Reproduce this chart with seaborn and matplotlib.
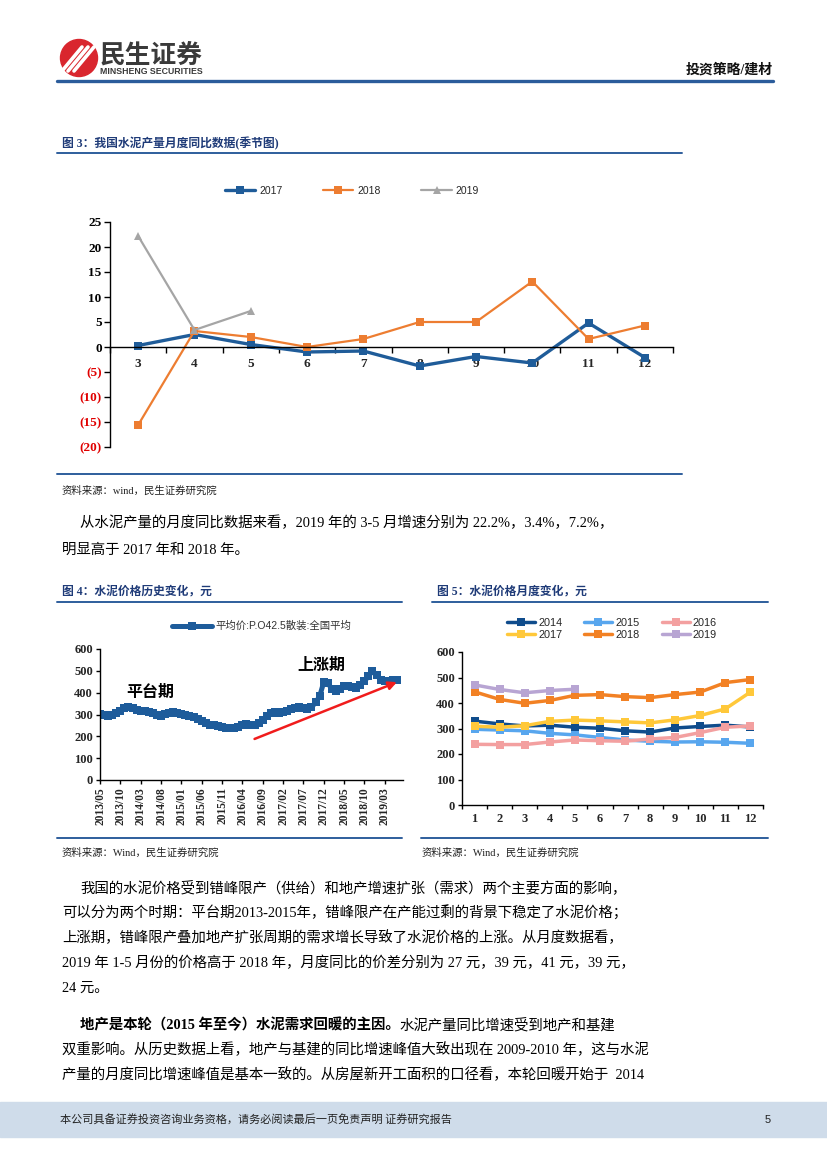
import numpy as np
import pandas as pd
import matplotlib
matplotlib.use("Agg")
import matplotlib.pyplot as plt
import seaborn as sns
from matplotlib.lines import Line2D
from matplotlib.patches import Circle, Rectangle

# ---- figure 3: cement output yoy (%) by month ----
months3 = [3, 4, 5, 6, 7, 8, 9, 10, 11, 12]
yoy_2017 = [0.3, 2.5, 0.5, -1.0, -0.8, -3.8, -1.9, -3.2, 4.8, -2.1]
yoy_2018 = [-15.6, 3.2, 2.0, 0.0, 1.6, 5.0, 5.0, 13.1, 1.6, 4.3]
months3_2019 = [3, 4, 5]
yoy_2019 = [22.2, 3.4, 7.2]
yticks3 = [-20, -15, -10, -5, 0, 5, 10, 15, 20, 25]
ylabels3 = ["(20)", "(15)", "(10)", "(5)", "0", "5", "10", "15", "20", "25"]

# ---- figure 4: national average price P.O42.5 bulk, monthly 2013/05-2019/06 ----
price_start = "2013-05"
price_avg = [302, 298, 292, 297, 305, 315, 328, 333,
             330, 322, 317, 315, 310, 305, 297, 292, 302, 309, 311, 308,
             304, 300, 295, 288, 280, 270, 260, 252, 250, 249, 245, 240,
             237, 236, 242, 251, 255, 252, 250, 260, 275, 295, 307, 312,
             309, 311, 318, 325, 332, 334, 328, 325, 333, 355, 383, 447,
             443, 418, 406, 418, 432, 430, 426, 421, 436, 452, 475, 500,
             482, 460, 452, 452, 458, 457]

# ---- figure 5: monthly price by year ----
months5 = [1, 2, 3, 4, 5, 6, 7, 8, 9, 10, 11, 12]
price_by_year = {
    "2014": [329, 318, 310, 313, 305, 301, 291, 286, 302, 308, 313, 306],
    "2015": [297, 294, 291, 281, 275, 265, 255, 250, 247, 248, 246, 242],
    "2016": [238, 237, 237, 247, 255, 252, 250, 259, 265, 284, 305, 310],
    "2017": [309, 305, 311, 328, 333, 330, 326, 322, 334, 351, 377, 443],
    "2018": [444, 414, 399, 410, 430, 433, 425, 421, 433, 443, 480, 492],
    "2019": [471, 453, 440, 449, 454],
}
colors5 = {"2014": "#0F4C8C", "2015": "#58A6EE", "2016": "#F3A0A0",
           "2017": "#FFC83A", "2018": "#F28124", "2019": "#B8A5D3"}

sns.set_theme(style="white")
plt.rcParams["font.family"] = ["Liberation Sans", "Noto Sans CJK SC"]

W, H = 827, 1169
fig = plt.figure(figsize=(8.27, 11.69), dpi=100)


def fx(x):
    return x / W


def fy(y):
    return 1 - y / H


def hline(y, x0, x1, lw=1.4, color="#2E5E9C"):
    fig.add_artist(Line2D([fx(x0), fx(x1)], [fy(y), fy(y)], color=color, lw=lw))


cjk = ["Liberation Serif", "Noto Sans CJK SC"]
title_color = "#1F3B78"
serif_bold = dict(family="Liberation Serif", weight="bold")

# ---- header ----
logo = fig.add_axes([fx(59), fy(78), 40 / W, 40 / H])
logo.set_xlim(0, 40)
logo.set_ylim(0, 40)
logo.set_aspect("equal")
logo.axis("off")
logo.add_patch(Circle((20, 20), 18.5, color="#D9262E"))
for off in (-6, 0, 6):
    logo.plot([9 + off, 29 + off], [7, 31], color="white", lw=2.6,
              solid_capstyle="round", clip_on=True)
fig.text(fx(100), fy(55), "民生证券", fontsize=18.5, fontweight="bold",
         color="#3A3A3A", family=["Noto Sans CJK SC"], va="center")
fig.text(fx(100), fy(72), "MINSHENG SECURITIES", fontsize=6.3,
         fontweight="bold", color="#3A3A3A", va="center")
fig.text(fx(773), fy(70), "投资策略/建材", fontsize=10, fontweight="bold",
         family=cjk, ha="right", va="center", color="#111111")
hline(81, 57, 773, lw=2.4, color="#2B5C9B")

# ---- figure 3 ----
fig.text(fx(62), fy(144), "图 3：我国水泥产量月度同比数据(季节图)", fontsize=8.5,
         fontweight="bold", family=cjk, color=title_color, va="center")
hline(153, 57, 682)

ax3 = fig.add_axes([fx(110), fy(447), 563 / W, 225 / H])
sns.lineplot(x=months3, y=yoy_2017, ax=ax3, color="#1F5C99", lw=2.4,
             marker="s", markersize=5.5, markeredgewidth=0, label="2017")
sns.lineplot(x=months3, y=yoy_2018, ax=ax3, color="#ED7D31", lw=1.6,
             marker="s", markersize=6, markeredgewidth=0, label="2018")
sns.lineplot(x=months3_2019, y=yoy_2019, ax=ax3, color="#A5A5A5", lw=1.6,
             marker="^", markersize=6, markeredgewidth=0, label="2019")
handles3, labels3 = ax3.get_legend_handles_labels()
ax3.get_legend().remove()
ax3.set_xlim(2.5, 12.5)
ax3.set_ylim(-20, 25)
for s in ("top", "right"):
    ax3.spines[s].set_visible(False)
ax3.spines["bottom"].set_position(("data", 0))
for s in ("bottom", "left"):
    ax3.spines[s].set_color("black")
    ax3.spines[s].set_linewidth(1.0)
ax3.set_xticks(months3)
ax3.set_xticklabels([str(m) for m in months3], **serif_bold, fontsize=9.5)
ax3.set_xticks(np.arange(2.5, 13, 1), minor=True)
ax3.tick_params(axis="x", which="major", length=0, pad=8)
ax3.tick_params(axis="x", which="minor", length=4, width=1, direction="out",
                color="black", bottom=True)
ax3.set_yticks(yticks3)
ax3.set_yticklabels(ylabels3, **serif_bold, fontsize=9.5)
for lab, v in zip(ax3.get_yticklabels(), yticks3):
    lab.set_color("#E00000" if v < 0 else "black")
ax3.tick_params(axis="y", length=4, width=1, direction="out", color="black",
                left=True, pad=2)
ax3.set_xlabel("")
ax3.set_ylabel("")
ax3.grid(False)
fig.legend(handles3, labels3, loc="center", bbox_to_anchor=(fx(352), fy(191)),
           ncol=3, frameon=False, handlelength=2.9, handletextpad=0.4,
           columnspacing=3.9, prop=dict(family="Liberation Sans", size=7.5))

hline(474, 57, 682)
fig.text(fx(62), fy(491), "资料来源：wind，民生证券研究院", fontsize=7.5,
         family=cjk, va="center", color="#222222")

para_kw = dict(fontsize=10.4, family=cjk, va="center", color="black")
fig.text(fx(80), fy(523), "从水泥产量的月度同比数据来看，2019 年的 3-5 月增速分别为 22.2%，3.4%，7.2%，", **para_kw)
fig.text(fx(62), fy(550), "明显高于 2017 年和 2018 年。", **para_kw)

# ---- figure 4 ----
fig.text(fx(62), fy(592), "图 4：水泥价格历史变化，元", fontsize=8.5,
         fontweight="bold", family=cjk, color=title_color, va="center")
hline(602, 57, 402)
fig.text(fx(437), fy(592), "图 5：水泥价格月度变化，元", fontsize=8.5,
         fontweight="bold", family=cjk, color=title_color, va="center")
hline(602, 432, 768)

months4 = pd.period_range(price_start, periods=len(price_avg), freq="M").strftime("%Y/%m")
idx4 = np.arange(len(price_avg))
ax4 = fig.add_axes([fx(100), fy(780), 303 / W, 131 / H])
sns.lineplot(x=idx4, y=price_avg, ax=ax4, color="#1E5C9B", lw=3.6,
             marker="s", markersize=5.5, markeredgewidth=0,
             label="平均价:P.O42.5散装:全国平均")
handles4, labels4 = ax4.get_legend_handles_labels()
ax4.get_legend().remove()
ax4.set_xlim(0, len(price_avg) + 0.5)
ax4.set_ylim(0, 600)
for s in ("top", "right"):
    ax4.spines[s].set_visible(False)
for s in ("bottom", "left"):
    ax4.spines[s].set_color("black")
    ax4.spines[s].set_linewidth(1.0)
tick_pos4 = idx4[::5]
ax4.set_xticks(tick_pos4)
ax4.set_xticklabels([months4[i] for i in tick_pos4], rotation=90, **serif_bold, fontsize=8.3)
ax4.set_yticks(range(0, 601, 100))
ax4.set_yticklabels([str(v) for v in range(0, 601, 100)], **serif_bold, fontsize=9)
ax4.tick_params(axis="both", length=3, width=1, direction="out", color="black",
                bottom=True, left=True, pad=2)
ax4.set_xlabel("")
ax4.set_ylabel("")
ax4.grid(False)
ax4.annotate("", xy=(73, 448), xytext=(38, 188),
             arrowprops=dict(arrowstyle="-|>", color="#F01C1C", lw=1.8,
                             mutation_scale=12, shrinkA=0, shrinkB=0))
ax4.text(12.3, 405, "平台期", fontsize=11.5, fontweight="bold",
         family=["Noto Sans CJK SC"], ha="center", va="center", color="black")
ax4.text(54.5, 525, "上涨期", fontsize=11.5, fontweight="bold",
         family=["Noto Sans CJK SC"], ha="center", va="center", color="black")
fig.legend(handles4, labels4, loc="center", bbox_to_anchor=(fx(262), fy(626)),
           frameon=False, handlelength=3.8, handletextpad=0.4,
           prop=dict(family=["Liberation Sans", "Noto Sans CJK SC"], size=7.5),
           labelcolor="#333333")

hline(838, 57, 402)
fig.text(fx(62), fy(853), "资料来源：Wind，民生证券研究院", fontsize=7.5,
         family=cjk, va="center", color="#222222")

# ---- figure 5 ----
ax5 = fig.add_axes([fx(462), fy(805), 301 / W, 153 / H])
for year, vals in price_by_year.items():
    sns.lineplot(x=months5[:len(vals)], y=vals, ax=ax5, color=colors5[year],
                 lw=2.5, marker="s", markersize=6.3, markeredgewidth=0, label=year)
h5, l5 = ax5.get_legend_handles_labels()
handles5 = dict(zip(l5, h5))
ax5.get_legend().remove()
ax5.set_xlim(0.5, 12.5)
ax5.set_ylim(0, 600)
for s in ("top", "right"):
    ax5.spines[s].set_visible(False)
for s in ("bottom", "left"):
    ax5.spines[s].set_color("black")
    ax5.spines[s].set_linewidth(1.0)
ax5.set_xticks(months5)
ax5.set_xticklabels([str(m) for m in months5], **serif_bold, fontsize=9)
ax5.set_xticks(np.arange(0.5, 13, 1), minor=True)
ax5.tick_params(axis="x", which="major", length=0, pad=6)
ax5.tick_params(axis="x", which="minor", length=3, width=1, direction="out",
                color="black", bottom=True)
ax5.set_yticks(range(0, 601, 100))
ax5.set_yticklabels([str(v) for v in range(0, 601, 100)], **serif_bold, fontsize=9)
ax5.tick_params(axis="y", length=3, width=1, direction="out", color="black",
                left=True, pad=2)
ax5.set_xlabel("")
ax5.set_ylabel("")
ax5.grid(False)
order5 = ["2014", "2017", "2015", "2018", "2016", "2019"]
fig.legend([handles5[k] for k in order5], order5, loc="center",
           bbox_to_anchor=(fx(612), fy(629)), ncol=3, frameon=False,
           handlelength=2.6, handletextpad=0.3, columnspacing=2.0,
           labelspacing=0.2, prop=dict(family="Liberation Sans", size=7.8))

hline(838, 421, 768)
fig.text(fx(422), fy(853), "资料来源：Wind，民生证券研究院", fontsize=7.5,
         family=cjk, va="center", color="#222222")

# ---- body text ----
fig.text(fx(80), fy(888), "我国的水泥价格受到错峰限产（供给）和地产增速扩张（需求）两个主要方面的影响，", **para_kw)
fig.text(fx(62), fy(913), "可以分为两个时期：平台期2013-2015年，错峰限产在产能过剩的背景下稳定了水泥价格；", **para_kw)
fig.text(fx(62), fy(938), "上涨期，错峰限产叠加地产扩张周期的需求增长导致了水泥价格的上涨。从月度数据看，", **para_kw)
fig.text(fx(62), fy(963), "2019 年 1-5 月份的价格高于 2018 年，月度同比的价差分别为 27 元，39 元，41 元，39 元，", **para_kw)
fig.text(fx(62), fy(988), "24 元。", **para_kw)

bold_part = fig.text(fx(80), fy(1025), "地产是本轮（2015 年至今）水泥需求回暖的主因。",
                     fontweight="bold", **para_kw)
renderer = fig.canvas.get_renderer()
bb = bold_part.get_window_extent(renderer=renderer)
fig.text(bb.x1 / fig.bbox.width, fy(1025), "水泥产量同比增速受到地产和基建", **para_kw)
fig.text(fx(62), fy(1050), "双重影响。从历史数据上看，地产与基建的同比增速峰值大致出现在 2009-2010 年，这与水泥", **para_kw)
fig.text(fx(62), fy(1075), "产量的月度同比增速峰值是基本一致的。从房屋新开工面积的口径看，本轮回暖开始于  2014", **para_kw)

# ---- footer ----
fig.add_artist(Rectangle((0, fy(1137)), 1, 35 / H, transform=fig.transFigure,
                         color="#CFDCEA", zorder=0))
fig.text(fx(60), fy(1120), "本公司具备证券投资咨询业务资格，请务必阅读最后一页免责声明 证券研究报告",
         fontsize=8, family=["Noto Sans CJK SC"], va="center", color="#222222")
fig.text(fx(765), fy(1120), "5", fontsize=8, va="center", color="#222222")

fig.savefig("out.png", dpi=100)
